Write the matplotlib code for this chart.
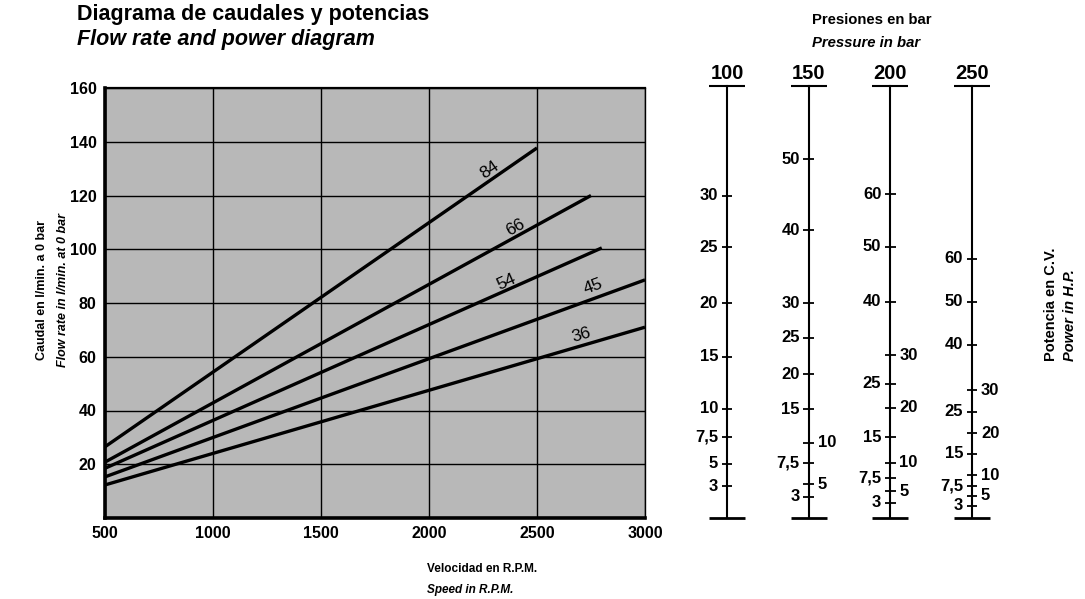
import matplotlib
matplotlib.use('Agg')
import matplotlib.pyplot as plt
import numpy as np

plt.rcParams['font.family'] = ['Liberation Sans', 'DejaVu Sans']

# ---------------- data ----------------
speed_ticks = [500, 1000, 1500, 2000, 2500, 3000]
flow_ticks = [20, 40, 60, 80, 100, 120, 140, 160]

displacements = ['84', '66', '54', '45', '36']
start_speed = [500, 500, 500, 500, 500]
start_flow = [26.5, 20.8, 18.5, 15.3, 12.3]
end_speed = [2500, 2750, 2800, 3000, 3000]
end_flow = [137.7, 120.0, 100.5, 88.6, 71.0]
label_speed = [2282, 2398, 2356, 2759, 2704]
label_flow = [129.5, 108.3, 87.8, 86.0, 68.1]

pressures = ['100', '150', '200', '250']
# power ticks on each pressure scale (labels on left / right), placed at the flow they match
left_labels = [
    ['30', '25', '20', '15', '10', '7,5', '5', '3'],
    ['50', '40', '30', '25', '20', '15', '7,5', '3'],
    ['60', '50', '40', '25', '15', '7,5', '3'],
    ['60', '50', '40', '25', '15', '7,5', '3'],
]
left_flow = [
    [120.0, 100.8, 80.0, 60.0, 40.6, 30.1, 20.1, 11.9],
    [133.5, 107.0, 80.0, 67.0, 53.5, 40.5, 20.5, 8.0],
    [120.5, 101.0, 80.5, 50.0, 30.0, 15.0, 5.6],
    [96.5, 80.5, 64.5, 39.5, 24.0, 12.0, 4.5],
]
right_labels = [
    [],
    ['10', '5'],
    ['30', '20', '10', '5'],
    ['30', '20', '10', '5'],
]
right_flow = [
    [],
    [28.0, 12.5],
    [60.5, 41.0, 20.5, 10.0],
    [47.5, 31.5, 16.0, 8.2],
]

# ---------------- figure ----------------
W, H = 1085, 599
fig = plt.figure(figsize=(W / 100, H / 100), dpi=100)
fig.patch.set_facecolor('white')

ax = fig.add_axes([105 / W, 1 - 518 / H, 540 / W, 430 / H])
ax.set_facecolor('#b8b8b8')
ax.set_xlim(500, 3000)
ax.set_ylim(0, 160)
ax.set_xticks(speed_ticks)
ax.set_yticks(flow_ticks)
ax.grid(True, color='black', lw=1.0, zorder=1)
ax.set_axisbelow(True)
ax.tick_params(length=0, labelsize=11.5, pad=6)
for lbl in ax.get_xticklabels() + ax.get_yticklabels():
    lbl.set_fontweight('bold')
ax.spines['left'].set_linewidth(2.6)
ax.spines['bottom'].set_linewidth(2.6)
ax.spines['top'].set_linewidth(1.6)
ax.spines['right'].set_linewidth(1.0)

for i in range(len(displacements)):
    ax.plot([start_speed[i], end_speed[i]], [start_flow[i], end_flow[i]],
            color='black', lw=2.4, solid_capstyle='butt', zorder=3)

for i in range(len(displacements)):
    p0 = ax.transData.transform((start_speed[i], start_flow[i]))
    p1 = ax.transData.transform((end_speed[i], end_flow[i]))
    ang = np.degrees(np.arctan2(p1[1] - p0[1], p1[0] - p0[0]))
    ax.text(label_speed[i], label_flow[i], displacements[i], rotation=ang,
            rotation_mode='anchor', ha='center', va='center', fontsize=12.5,
            color='black', zorder=4)

# titles
fig.text(77 / W, 1 - 20 / H, 'Diagrama de caudales y potencias', fontsize=15.5,
         fontweight='bold', ha='left', va='baseline')
fig.text(77 / W, 1 - 45 / H, 'Flow rate and power diagram', fontsize=15.5,
         fontweight='bold', style='italic', ha='left', va='baseline')

# axis labels
fig.text(42 / W, 1 - 290 / H, 'Caudal en l/min. a 0 bar', rotation=90, fontsize=9,
         fontweight='bold', ha='center', va='center')
fig.text(63 / W, 1 - 290 / H, 'Flow rate in l/min. at 0 bar', rotation=90, fontsize=9,
         fontweight='bold', style='italic', ha='center', va='center')
fig.text(427 / W, 1 - 569 / H, 'Velocidad en R.P.M.', fontsize=8.5,
         fontweight='bold', ha='left', va='center')
fig.text(427 / W, 1 - 590 / H, 'Speed in R.P.M.', fontsize=8.5,
         fontweight='bold', style='italic', ha='left', va='center')

fig.text(812 / W, 1 - 20 / H, 'Presiones en bar', fontsize=10.7,
         fontweight='bold', ha='left', va='center')
fig.text(812 / W, 1 - 43 / H, 'Pressure in bar', fontsize=10.7,
         fontweight='bold', style='italic', ha='left', va='center')
fig.text(1051 / W, 1 - 361 / H, 'Potencia en C.V.', rotation=90, fontsize=10.5,
         fontweight='bold', ha='center', va='bottom')
fig.text(1070 / W, 1 - 361 / H, 'Power in H.P.', rotation=90, fontsize=10.5,
         fontweight='bold', style='italic', ha='center', va='bottom')

# ---------------- nomogram scales ----------------
ax2 = fig.add_axes([680 / W, 1 - 518 / H, 340 / W, 430 / H])
unit = 81.67  # px per column
a = -(727 - 680) / unit
ax2.set_xlim(a, a + 340 / unit)
ax2.set_ylim(0, 160)
ax2.axis('off')

top_q = 160.7
half_bar = 0.22
half_tick = 0.065
gap = 0.11
for i, p in enumerate(pressures):
    ax2.plot([i, i], [0, top_q], color='black', lw=1.5, clip_on=False)
    ax2.plot([i - half_bar, i + half_bar], [top_q, top_q], color='black', lw=1.5,
             clip_on=False, solid_capstyle='butt')
    ax2.plot([i - half_bar, i + half_bar], [0, 0], color='black', lw=2.0,
             clip_on=False, solid_capstyle='butt')
    ax2.text(i, top_q + 1.2, p, ha='center', va='bottom', fontsize=14.5,
             fontweight='bold', clip_on=False)
    for lab, q in zip(left_labels[i], left_flow[i]):
        ax2.plot([i - half_tick, i + half_tick], [q, q], color='black', lw=1.3,
                 clip_on=False, solid_capstyle='butt')
        ax2.text(i - gap, q, lab, ha='right', va='center', fontsize=12,
                 fontweight='bold')
    for lab, q in zip(right_labels[i], right_flow[i]):
        ax2.plot([i - half_tick, i + half_tick], [q, q], color='black', lw=1.3,
                 clip_on=False, solid_capstyle='butt')
        ax2.text(i + gap, q, lab, ha='left', va='center', fontsize=12,
                 fontweight='bold')

fig.savefig('out.png', dpi=100, facecolor='white')
